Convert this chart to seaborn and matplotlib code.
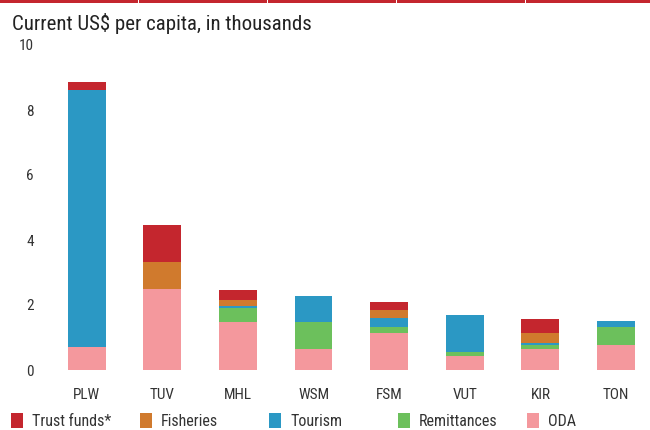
import matplotlib
matplotlib.use("Agg")
import matplotlib.pyplot as plt
from matplotlib.patches import Rectangle
from matplotlib import font_manager
import numpy as np
import pandas as pd
import seaborn as sns

# Per-capita receipts by source, current US$ thousands
countries = ["PLW", "TUV", "MHL", "WSM", "FSM", "VUT", "KIR", "TON"]
oda = [0.71, 2.49, 1.48, 0.65, 1.14, 0.43, 0.65, 0.77]
remittances = [0.00, 0.00, 0.43, 0.83, 0.18, 0.12, 0.12, 0.55]
tourism = [7.91, 0.00, 0.06, 0.80, 0.29, 1.14, 0.06, 0.18]
fisheries = [0.00, 0.83, 0.18, 0.00, 0.24, 0.00, 0.31, 0.00]
trust_funds = [0.24, 1.14, 0.31, 0.00, 0.24, 0.00, 0.43, 0.00]

series_names = ["ODA", "Remittances", "Tourism", "Fisheries", "Trust funds*"]
series_values = [oda, remittances, tourism, fisheries, trust_funds]
colors = {
    "Trust funds*": "#c4262e",
    "Fisheries": "#d07a2d",
    "Tourism": "#2b98c4",
    "Remittances": "#6cc05c",
    "ODA": "#f4989d",
}
legend_order = ["Trust funds*", "Fisheries", "Tourism", "Remittances", "ODA"]
yticks = [0, 2, 4, 6, 8, 10]

sns.set_theme(style="white")
available = {f.name for f in font_manager.fontManager.ttflist}
families = [f for f in ["Roboto Condensed", "Liberation Sans Narrow", "Roboto"]
            if f in available]
plt.rcParams["font.family"] = families + ["DejaVu Sans"]

fig = plt.figure(figsize=(6.5, 4.3), dpi=100)
W, H = 650, 430
ax = fig.add_axes([49 / W, (H - 370) / H, (W - 49) / W, 325 / H])

bottom = np.zeros(len(countries))
for name, vals in zip(series_names, series_values):
    df = pd.DataFrame({"country": countries, "value": vals})
    sns.barplot(data=df, x="country", y="value", order=countries,
                color=colors[name], width=0.5, bottom=bottom,
                linewidth=0, ax=ax, saturation=1)
    bottom = bottom + np.array(vals)

ax.set_ylim(0, 10)
ax.set_xlim(-0.5, 7.45)
ax.set_yticks(yticks)
ax.set_yticklabels([str(t) for t in yticks])
ax.set_xlabel("")
ax.set_ylabel("")
for s in ax.spines.values():
    s.set_visible(False)
ax.tick_params(axis="both", length=0, labelsize=11, colors="#333333")
ax.tick_params(axis="x", pad=13)
ax.tick_params(axis="y", pad=11)
ax.grid(False)

# Title
fig.text(12 / W, 1 - 30 / H, "Current US$ per capita, in thousands",
         fontsize=15, color="#222222", va="baseline", ha="left")

# Top rule with small breaks
for i in range(5):
    x0 = 0 if i == 0 else 129 * i + 10
    x1 = 129 * (i + 1) + 9 if i < 4 else W
    fig.add_artist(Rectangle((x0 / W, 1 - 3 / H), (x1 - x0) / W, 3 / H,
                             transform=fig.transFigure, color="#c4262e",
                             linewidth=0))

# Legend along the bottom
for i, name in enumerate(legend_order):
    x = 11 + 129 * i
    fig.add_artist(Rectangle((x / W, 1 - 428 / H), 12 / W, 15 / H,
                             transform=fig.transFigure, color=colors[name],
                             linewidth=0))
    fig.text((x + 21) / W, 1 - 421 / H, name, fontsize=11.5,
             color="#333333", va="center", ha="left")

fig.savefig("out.png", dpi=100)
